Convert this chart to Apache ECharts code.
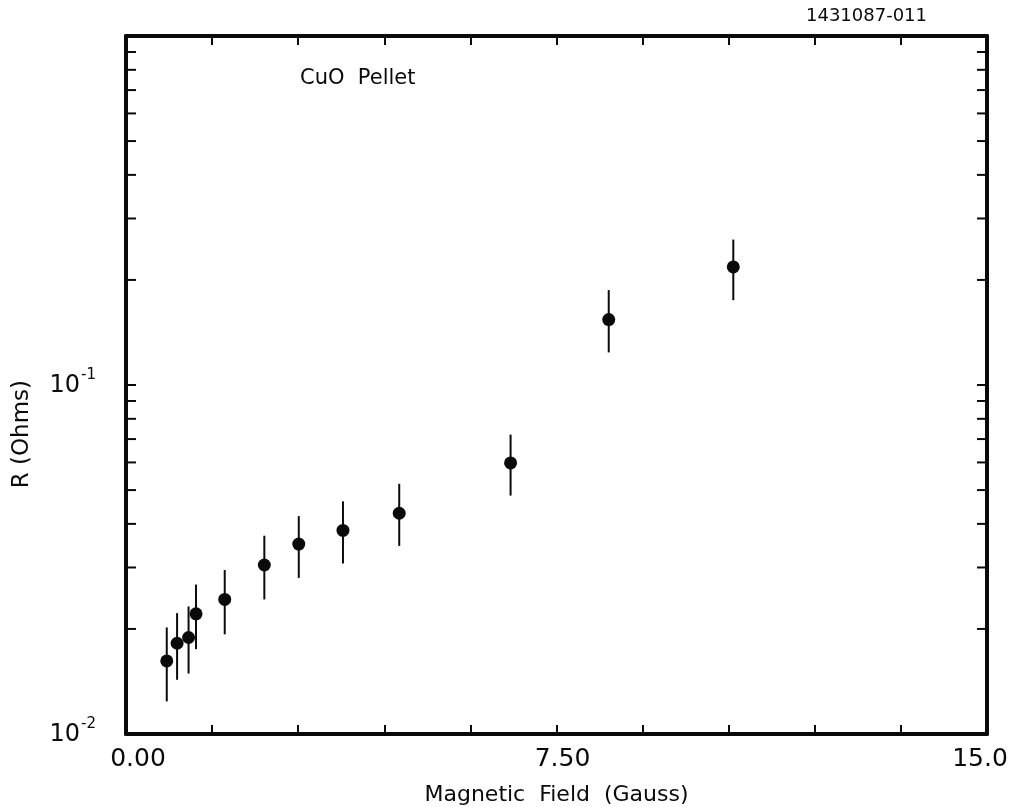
<!DOCTYPE html>
<html>
<head>
<meta charset="utf-8">
<title>CuO Pellet — R vs Magnetic Field</title>
<script src="https://cdn.jsdelivr.net/npm/echarts@6/dist/echarts.min.js"></script>
<style>
  html, body { margin: 0; padding: 0; background: #fff; }
  #chart { width: 1013px; height: 807px; }
</style>
</head>
<body>
<div id="chart"></div>
<script>
// Measured resistance of a CuO pellet against applied magnetic field
const fieldGauss = [0.71, 0.89, 1.09, 1.22, 1.72, 2.41, 3.01, 3.78, 4.76, 6.70, 8.41, 10.58];
const resistanceOhms = [0.0162, 0.0182, 0.0189, 0.0221, 0.0243, 0.0305, 0.0350, 0.0383, 0.0429, 0.0598, 0.154, 0.218];
const errorLow = [0.0124, 0.0143, 0.0149, 0.0175, 0.0193, 0.0243, 0.0280, 0.0308, 0.0346, 0.0482, 0.124, 0.175];
const errorHigh = [0.0202, 0.0222, 0.0232, 0.0268, 0.0295, 0.0370, 0.0421, 0.0464, 0.0521, 0.0721, 0.187, 0.261];

// Axis ticks and labels
const xLabelValues = [0, 7.5, 15];
const xLabelTexts = ['0.00', '7.50', '15.0'];
const xLabelStyles = ['first', 'mid', 'last'];
const yLabelValues = [0.01, 0.1];
const yLabelExponents = ['-2', '-1'];
const yTickValues = [0.02, 0.03, 0.04, 0.05, 0.06, 0.07, 0.08, 0.09, 0.1,
                     0.2, 0.3, 0.4, 0.5, 0.6, 0.7, 0.8, 0.9];

const FONT = 'DejaVu Sans';
const INK = '#0a0a0a';

const chart = echarts.init(document.getElementById('chart'), null, { renderer: 'canvas' });

function xLabel(v) {
  for (let i = 0; i < xLabelValues.length; i++) {
    if (Math.abs(v - xLabelValues[i]) < 1e-6) return '{' + xLabelStyles[i] + '|' + xLabelTexts[i] + '}';
  }
  return '';
}
function yLabel(v) {
  for (let i = 0; i < yLabelValues.length; i++) {
    if (Math.abs(Math.log10(v) - Math.log10(yLabelValues[i])) < 1e-6) {
      return '{b|10}{s|' + yLabelExponents[i] + '}';
    }
  }
  return '';
}

const axisLineStyle = { color: INK, width: 4 };
const xAxisBase = {
  type: 'value', min: 0, max: 15, interval: 1.5,
  axisLine: { show: true, onZero: false, lineStyle: axisLineStyle },
  axisTick: { show: true, inside: true, length: 9, lineStyle: { color: INK, width: 2 } },
  splitLine: { show: false }
};
const yAxisBase = {
  type: 'log', logBase: 10, min: 0.01, max: 1,
  axisLine: { show: true, onZero: false, lineStyle: axisLineStyle },
  axisTick: { show: false },
  splitLine: { show: false }
};
const tickFont = { fontFamily: FONT, fontSize: 25, color: INK };

chart.setOption({
  backgroundColor: '#fff',
  animation: false,
  grid: { left: 126, right: 26, top: 36, bottom: 73, containLabel: false, outerBoundsMode: 'none' },
  xAxis: [
    Object.assign({}, xAxisBase, {
      position: 'bottom',
      name: 'Magnetic  Field  (Gauss)',
      nameLocation: 'middle',
      nameGap: 50,
      nameTextStyle: { fontFamily: FONT, fontSize: 22, color: INK },
      axisLabel: {
        show: true, margin: 13, formatter: xLabel,
        showMinLabel: true, showMaxLabel: true,
        rich: {
          first: Object.assign({ padding: [0, 0, 0, 24] }, tickFont),
          mid: Object.assign({ padding: [0, 0, 0, 12] }, tickFont),
          last: Object.assign({ padding: [0, 14, 0, 0] }, tickFont)
        }
      }
    }),
    Object.assign({}, xAxisBase, {
      position: 'top',
      axisLabel: { show: false }
    })
  ],
  yAxis: [
    Object.assign({}, yAxisBase, {
      position: 'left',
      axisLabel: {
        show: true, margin: 30, formatter: yLabel,
        showMinLabel: true, showMaxLabel: true,
        rich: {
          b: { fontFamily: FONT, fontSize: 24, color: INK, verticalAlign: 'bottom', lineHeight: 30 },
          s: { fontFamily: FONT, fontSize: 15, color: INK, verticalAlign: 'top', lineHeight: 30, padding: [0, 0, 14, 1] }
        },
        padding: [0, 0, 4, 0]
      }
    }),
    Object.assign({}, yAxisBase, {
      position: 'right',
      axisLabel: { show: false }
    })
  ],
  graphic: [
    {
      type: 'text', left: 11, top: 380,
      rotation: Math.PI / 2,
      style: { text: 'R (Ohms)', fontFamily: FONT, fontSize: 23, fill: INK }
    },
    {
      type: 'text', left: 300, top: 68,
      style: { text: 'CuO  Pellet', fontFamily: FONT, fontSize: 21, fill: INK }
    },
    {
      type: 'text', left: 806, top: 7,
      style: { text: '1431087-011', fontFamily: FONT, fontSize: 18, fill: INK }
    }
  ],
  series: [
    {
      // logarithmic tick marks drawn inward on the left and right frame edges
      type: 'custom',
      xAxisIndex: 0, yAxisIndex: 0,
      silent: true,
      data: yTickValues.map(v => [0, v]),
      encode: { x: 0, y: 1 },
      renderItem: function (params, api) {
        const cs = params.coordSys;
        const y = api.coord([0, api.value(1)])[1];
        const len = 10;
        const style = { stroke: INK, lineWidth: 2 };
        return {
          type: 'group',
          children: [
            { type: 'line', shape: { x1: cs.x, y1: y, x2: cs.x + len, y2: y }, style: style },
            { type: 'line', shape: { x1: cs.x + cs.width - len, y1: y, x2: cs.x + cs.width, y2: y }, style: style }
          ]
        };
      }
    },
    {
      // vertical error bars
      type: 'custom',
      xAxisIndex: 0, yAxisIndex: 0,
      silent: true,
      data: fieldGauss.map((x, i) => [x, errorLow[i], errorHigh[i]]),
      encode: { x: 0, y: [1, 2] },
      renderItem: function (params, api) {
        const lo = api.coord([api.value(0), api.value(1)]);
        const hi = api.coord([api.value(0), api.value(2)]);
        return {
          type: 'line',
          shape: { x1: lo[0], y1: lo[1], x2: hi[0], y2: hi[1] },
          style: { stroke: INK, lineWidth: 2 }
        };
      }
    },
    {
      type: 'scatter',
      xAxisIndex: 0, yAxisIndex: 0,
      symbol: 'circle',
      symbolSize: 13,
      itemStyle: { color: INK, opacity: 1 },
      data: fieldGauss.map((x, i) => [x, resistanceOhms[i]])
    }
  ]
});
</script>
</body>
</html>
